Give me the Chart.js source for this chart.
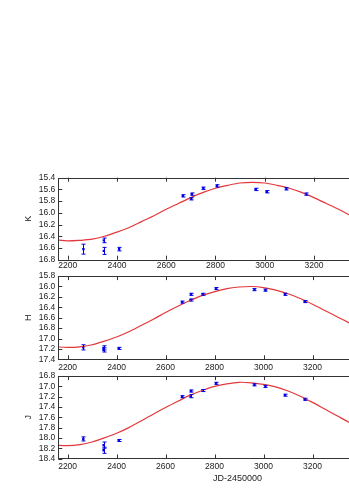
<!DOCTYPE html>
<html>
<head>
<meta charset="utf-8">
<script src="https://cdn.jsdelivr.net/npm/chart.js@4/dist/chart.umd.min.js"></script>
<style>
  html, body { margin: 0; padding: 0; background: #fff; overflow: hidden; }
  body { width: 349px; height: 494px; position: relative; }
  canvas { position: absolute; left: 0; }
</style>
</head>
<body>
<canvas id="k-chart" width="423" height="111" style="top:165px"></canvas>
<canvas id="h-chart" width="423" height="108" style="top:268px"></canvas>
<canvas id="j-chart" width="423" height="120" style="top:368px"></canvas>
<script>
// observation epochs (JD-2450000), shared by all three bands
const obsDays = [2264, 2347, 2347, 2409, 2668, 2702, 2704, 2751, 2806, 2963, 3008, 3088, 3168];

const kMags = [16.62, 16.47, 16.65, 16.62, 15.71, 15.76, 15.68, 15.58, 15.54, 15.60, 15.64, 15.59, 15.68];
const kErrs = [0.085, 0.04, 0.06, 0.03, 0.02, 0.02, 0.02, 0.02, 0.02, 0.02, 0.02, 0.02, 0.02];
const hMags = [17.17, 17.18, 17.22, 17.19, 16.30, 16.26, 16.15, 16.15, 16.04, 16.06, 16.07, 16.15, 16.29];
const hErrs = [0.05, 0.04, 0.04, 0.02, 0.02, 0.02, 0.02, 0.02, 0.02, 0.02, 0.02, 0.02, 0.02];
const jMags = [18.02, 18.14, 18.24, 18.05, 17.20, 17.19, 17.09, 17.08, 16.94, 16.97, 17.00, 17.17, 17.25];
const jErrs = [0.04, 0.06, 0.06, 0.02, 0.02, 0.03, 0.02, 0.02, 0.02, 0.02, 0.02, 0.02, 0.02];

const curveDays = [2150, 2200, 2250, 2300, 2350, 2400, 2450, 2500, 2550, 2600, 2650, 2700, 2750,
                   2800, 2850, 2900, 2950, 3000, 3050, 3100, 3150, 3200, 3250, 3300, 3350, 3400];
const kCurve = [16.46, 16.48, 16.47, 16.45, 16.40, 16.33, 16.25, 16.15, 16.05, 15.94, 15.84, 15.74, 15.65,
                15.58, 15.53, 15.49, 15.48, 15.49, 15.53, 15.58, 15.65, 15.74, 15.84, 15.94, 16.05, 16.15];
const hCurve = [17.16, 17.17, 17.16, 17.12, 17.05, 16.97, 16.87, 16.75, 16.63, 16.50, 16.38, 16.27, 16.17,
                16.10, 16.04, 16.01, 16.00, 16.02, 16.07, 16.14, 16.23, 16.34, 16.46, 16.58, 16.70, 16.82];
const jCurve = [18.14, 18.15, 18.13, 18.08, 18.00, 17.91, 17.80, 17.67, 17.54, 17.41, 17.29, 17.17, 17.08,
                17.00, 16.95, 16.92, 16.93, 16.96, 17.01, 17.09, 17.19, 17.31, 17.44, 17.57, 17.70, 17.82];

const xTicks = [2200, 2400, 2600, 2800, 3000, 3200, 3400, 3600];
const kTicks = [15.4, 15.6, 15.8, 16.0, 16.2, 16.4, 16.6, 16.8];
const hTicks = [15.8, 16.0, 16.2, 16.4, 16.6, 16.8, 17.0, 17.2, 17.4];
const jTicks = [16.8, 17.0, 17.2, 17.4, 17.6, 17.8, 18.0, 18.2, 18.4];

Chart.defaults.font.family = '"Liberation Sans", Arial, sans-serif';
Chart.defaults.font.size = 8.5;
Chart.defaults.color = '#222';

// box, inward ticks and error bars
const framePlugin = {
    id: 'frame',
    afterDatasetsDraw(chart) {
        const ctx = chart.ctx;
        const a = chart.chartArea;
        const xs = chart.scales.x;
        const ys = chart.scales.y;
        ctx.save();

        chart.data.datasets.forEach(ds => {
            if (!ds.errors) return;
            ctx.strokeStyle = ds.borderColor;
            ctx.lineWidth = 1;
            ds.data.forEach((p, i) => {
                const px = Math.round(xs.getPixelForValue(p.x)) + 0.5;
                const y1 = ys.getPixelForValue(p.y - ds.errors[i]);
                const y2 = ys.getPixelForValue(p.y + ds.errors[i]);
                ctx.beginPath();
                ctx.moveTo(px, y1); ctx.lineTo(px, y2);
                ctx.moveTo(px - 2, y1); ctx.lineTo(px + 2, y1);
                ctx.moveTo(px - 2, y2); ctx.lineTo(px + 2, y2);
                ctx.stroke();
            });
        });

        ctx.strokeStyle = '#333';
        ctx.lineWidth = 1;
        ctx.strokeRect(Math.round(a.left) + 0.5, Math.round(a.top) + 0.5,
                       Math.round(a.right - a.left), Math.round(a.bottom - a.top));
        ctx.beginPath();
        xs.ticks.forEach(t => {
            const px = Math.round(xs.getPixelForValue(t.value)) + 0.5;
            ctx.moveTo(px, a.top); ctx.lineTo(px, a.top + 4);
            ctx.moveTo(px, a.bottom); ctx.lineTo(px, a.bottom - 4);
        });
        ys.ticks.forEach(t => {
            const py = Math.round(ys.getPixelForValue(t.value)) + 0.5;
            ctx.moveTo(a.left, py); ctx.lineTo(a.left + 4, py);
            ctx.moveTo(a.right, py); ctx.lineTo(a.right - 4, py);
        });
        ctx.stroke();
        ctx.restore();
    }
};

function toPoints(xs, ys) {
    return xs.map((x, i) => ({ x: x, y: ys[i] }));
}

function makePanel(id, band, mags, errs, curve, yTicks, opts) {
    const ctx = document.getElementById(id).getContext('2d');
    new Chart(ctx, {
        type: 'scatter',
        data: {
            datasets: [{
                type: 'line',
                label: 'fit',
                data: toPoints(curveDays, curve),
                borderColor: '#e3383b',
                borderWidth: 1.2,
                pointRadius: 0,
                tension: 0.3,
                fill: false
            }, {
                label: band,
                data: toPoints(obsDays, mags),
                errors: errs,
                borderColor: '#0000e6',
                backgroundColor: '#0000e6',
                pointStyle: 'rect',
                pointRadius: 1.7,
                borderWidth: 0
            }]
        },
        options: {
            responsive: false,
            animation: false,
            devicePixelRatio: 1,
            layout: { padding: { top: opts.padTop, left: 0, right: 0, bottom: 0 } },
            plugins: { legend: { display: false }, tooltip: { enabled: false } },
            scales: {
                x: {
                    type: 'linear',
                    min: 2162,
                    max: 3625,
                    grid: { display: false, drawTicks: false },
                    border: { display: false },
                    afterBuildTicks: s => { s.ticks = xTicks.map(v => ({ value: v })); },
                    afterFit: s => { s.height = opts.xHeight; },
                    ticks: { padding: opts.xPad, maxRotation: 0, autoSkip: false, callback: v => String(v) },
                    title: {
                        display: !!opts.xTitle,
                        text: opts.xTitle || '',
                        font: { size: 9 },
                        padding: { top: 0, bottom: 4 }
                    }
                },
                y: {
                    type: 'linear',
                    reverse: true,
                    min: yTicks[0],
                    max: yTicks[yTicks.length - 1],
                    grid: { display: false, drawTicks: false },
                    border: { display: false },
                    afterBuildTicks: s => { s.ticks = yTicks.map(v => ({ value: v })); },
                    afterFit: s => { s.width = 58.3; },
                    ticks: { padding: 3, autoSkip: false, callback: v => v.toFixed(1) },
                    title: {
                        display: true,
                        text: band,
                        font: { size: 9 },
                        padding: { top: 23.6, bottom: 0 }
                    }
                }
            }
        },
        plugins: [framePlugin]
    });
}

makePanel('k-chart', 'K', kMags, kErrs, kCurve, kTicks, { padTop: 12.7, xHeight: 16.3, xPad: 1 });
makePanel('h-chart', 'H', hMags, hErrs, hCurve, hTicks, { padTop: 7.3, xHeight: 16.7, xPad: 3 });
makePanel('j-chart', 'J', jMags, jErrs, jCurve, jTicks, { padTop: 6.7, xHeight: 29.5, xPad: 3, xTitle: 'JD-2450000' });
</script>
</body>
</html>
